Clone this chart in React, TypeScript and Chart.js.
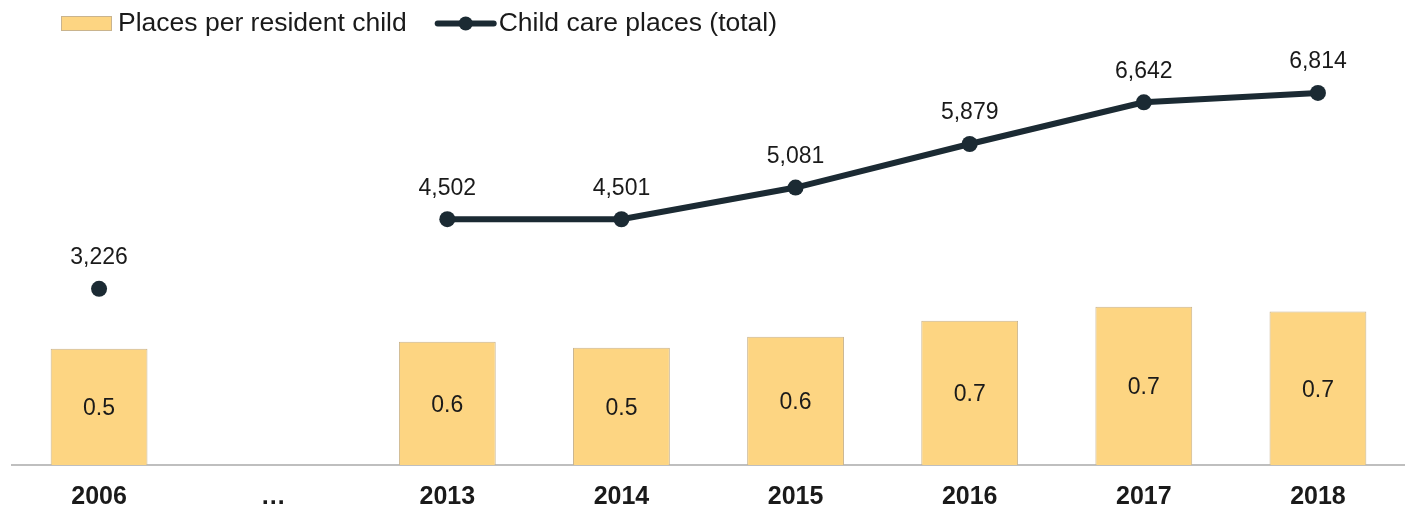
import { useEffect, useRef } from "react";
import { Chart, registerables } from "chart.js";

Chart.register(...registerables);

const categories = ["2006", "…", "2013", "2014", "2015", "2016", "2017", "2018"];
const placesPerChild: (number | null)[] = [0.543, null, 0.576, 0.548, 0.599, 0.674, 0.74, 0.717];
const totalPlaces: (number | null)[] = [3226, null, 4502, 4501, 5081, 5879, 6642, 6814];
const seriesNames = ["Places per resident child", "Child care places (total)"];

const BAR_COLOR = "#FDD582";
const BAR_BORDER = "#C9B48E";
const LINE_COLOR = "#1B2A33";
const TEXT_COLOR = "#1a1a1a";
const FONT = "'Liberation Sans', Arial, Helvetica, sans-serif";

const valueLabels = {
  id: "valueLabels",
  afterDatasetsDraw(chart: any) {
    const ctx = chart.ctx as CanvasRenderingContext2D;
    ctx.save();
    ctx.fillStyle = TEXT_COLOR;
    ctx.textAlign = "center";
    ctx.textBaseline = "middle";
    ctx.font = `23px ${FONT}`;
    chart.data.datasets.forEach((ds: any, i: number) => {
      const meta = chart.getDatasetMeta(i);
      meta.data.forEach((el: any, j: number) => {
        const v = ds.data[j];
        if (v == null) return;
        if (ds.type === "bar") {
          const p = el.getProps(["x", "y", "base"], true);
          ctx.fillText(v.toFixed(1), p.x, (p.y + p.base) / 2 + 2);
        } else {
          ctx.fillText(v.toLocaleString("en-US"), el.x, el.y - 31);
        }
      });
    });
    ctx.restore();
  },
};

const customLegend = {
  id: "customLegend",
  afterDraw(chart: any) {
    const ctx = chart.ctx as CanvasRenderingContext2D;
    ctx.save();
    ctx.font = `26.5px ${FONT}`;
    ctx.textBaseline = "middle";
    ctx.textAlign = "left";
    const cy = 23.5;
    let x = 61;
    // bar item
    ctx.fillStyle = BAR_COLOR;
    ctx.fillRect(x, cy - 7.5, 51, 15);
    ctx.strokeStyle = BAR_BORDER;
    ctx.lineWidth = 1;
    ctx.strokeRect(x + 0.5, cy - 7, 50, 14);
    x += 57;
    ctx.fillStyle = TEXT_COLOR;
    ctx.fillText(seriesNames[0], x, cy);
    x += ctx.measureText(seriesNames[0]).width + 31;
    // line item
    ctx.strokeStyle = LINE_COLOR;
    ctx.lineWidth = 6;
    ctx.lineCap = "round";
    ctx.beginPath();
    ctx.moveTo(x, cy);
    ctx.lineTo(x + 56, cy);
    ctx.stroke();
    ctx.fillStyle = LINE_COLOR;
    ctx.beginPath();
    ctx.arc(x + 28, cy, 7, 0, Math.PI * 2);
    ctx.fill();
    x += 61;
    ctx.fillStyle = TEXT_COLOR;
    ctx.fillText(seriesNames[1], x, cy);
    ctx.restore();
  },
};

export default function App() {
  const ref = useRef<HTMLCanvasElement | null>(null);
  useEffect(() => {
    if (!ref.current) return;
    const chart = new Chart(ref.current, {
      data: {
        labels: categories,
        datasets: [
          {
            type: "line",
            label: seriesNames[1],
            data: totalPlaces,
            yAxisID: "y",
            borderColor: LINE_COLOR,
            backgroundColor: LINE_COLOR,
            borderWidth: 6,
            pointRadius: 8,
            pointHoverRadius: 8,
            pointBackgroundColor: LINE_COLOR,
            pointBorderWidth: 0,
            spanGaps: false,
            tension: 0,
            clip: false,
            order: 0,
          } as any,
          {
            type: "bar",
            label: seriesNames[0],
            data: placesPerChild,
            yAxisID: "y1",
            backgroundColor: BAR_COLOR,
            borderColor: BAR_BORDER,
            borderWidth: 1,
            barPercentage: 0.556,
            categoryPercentage: 1,
            order: 1,
          } as any,
        ],
      },
      options: {
        responsive: false,
        animation: false,
        layout: { autoPadding: false, padding: { top: 50, left: 12, right: 0, bottom: -19 } },
        plugins: {
          legend: { display: false },
          tooltip: { enabled: false },
        },
        scales: {
          x: {
            grid: { display: false, drawTicks: false },
            border: { display: true, color: "#BFBFBF", width: 2 },
            ticks: {
              color: TEXT_COLOR,
              font: { family: FONT, size: 25, weight: "bold" },
              padding: 17,
              maxRotation: 0,
              autoSkip: false,
            },
          },
          y: {
            display: false,
            min: 0,
            max: 7600,
          },
          y1: {
            display: false,
            min: 0,
            max: 1.94,
          },
        },
      },
      plugins: [valueLabels, customLegend],
    });
    return () => chart.destroy();
  }, []);
  return (
    <div style={{ position: "absolute", left: 0, top: 0, width: 1405, height: 510, background: "#fff" }}>
      <canvas ref={ref} width={1405} height={510} style={{ display: "block" }} />
    </div>
  );
}
